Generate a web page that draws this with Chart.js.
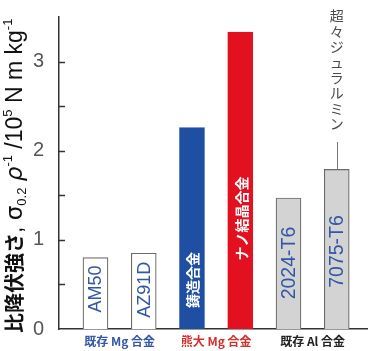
<!DOCTYPE html>
<html><head><meta charset="utf-8">
<script src="https://cdn.jsdelivr.net/npm/chart.js@4/dist/chart.umd.min.js"></script>
<style>html,body{margin:0;padding:0;background:#fff}#c{display:block}</style>
</head><body>
<canvas id="c" width="369" height="351"></canvas>
<script>
// ---- data ----
const alloys = ['AM50', 'AZ91D', '鋳造合金', 'ナノ結晶合金', '2024-T6', '7075-T6'];
const strength = [0.80, 0.85, 2.26, 3.33, 1.47, 1.79];
const groupLabels = ['既存 Mg 合金', '熊大 Mg 合金', '既存 Al 合金'];
const groupCenters = [0.5, 2.5, 4.5];
const yTickValues = [0, 1, 2, 3];
const annotationText = '超々ジュラルミン';
const annotatedIndex = 5;

// ---- styling (kept apart from the data) ----
const barFill = ['#ffffff', '#ffffff', '#1f4fa3', '#e3101f', '#d3d3d3', '#d3d3d3'];
const barBorder = ['#6a6a6a', '#6a6a6a', '#1f4fa3', '#e3101f', '#6a6a6a', '#6a6a6a'];
const labelColor = ['#3257a6', '#3257a6', '#ffffff', '#ffffff', '#3257a6', '#3257a6'];
const labelFont = ['18px "Liberation Sans"', '18px "Liberation Sans"',
  'bold 14px "Noto Sans CJK JP"', 'bold 14px "Noto Sans CJK JP"',
  '19.5px "Liberation Sans"', '19.5px "Liberation Sans"'];
const labelAnchor = [0.45, 0.44, 0.55, 1.24, 0.74, 0.87]; // label centre, in axis units
const groupColor = ['#3557a5', '#d2302a', '#222222'];

const decor = {
  id: 'decor',
  afterDraw(chart) {
    const ctx = chart.ctx, ys = chart.scales.y, ca = chart.chartArea;
    const meta = chart.getDatasetMeta(0);
    ctx.save();
    // inward ticks
    ctx.strokeStyle = '#333'; ctx.lineWidth = 1.5;
    for (let v = 0.5; v <= 3.0001; v += 0.5) {
      const y = Math.round(ys.getPixelForValue(v)) + 0.5;
      ctx.beginPath(); ctx.moveTo(ca.left, y); ctx.lineTo(ca.left + 6, y); ctx.stroke();
    }
    // labels inside bars
    meta.data.forEach((bar, i) => {
      ctx.save();
      ctx.translate(bar.x, ys.getPixelForValue(labelAnchor[i]));
      ctx.rotate(-Math.PI / 2);
      ctx.font = labelFont[i];
      ctx.fillStyle = labelColor[i];
      ctx.textAlign = 'center'; ctx.textBaseline = 'middle';
      ctx.fillText(alloys[i], 0, 1);
      ctx.restore();
    });
    // annotation (vertical writing) + leader line
    const ab = meta.data[annotatedIndex];
    ctx.font = '14px "Noto Sans CJK JP"';
    ctx.fillStyle = '#4a4a4a'; ctx.textAlign = 'center'; ctx.textBaseline = 'middle';
    Array.from(annotationText).forEach((ch, k) => ctx.fillText(ch, ab.x, 16 + k * 15.4));
    ctx.strokeStyle = '#777'; ctx.lineWidth = 1;
    ctx.beginPath(); ctx.moveTo(Math.round(ab.x) + 0.5, 142); ctx.lineTo(Math.round(ab.x) + 0.5, ab.y); ctx.stroke();
    // y axis title
    const segs = [
      ['比降伏強さ', 'bold 20px "Noto Sans CJK JP"', 0],
      [', ', '23px "Liberation Sans"', 0],
      ['σ', '23px "DejaVu Sans"', 0],
      ['0.2', '13px "Liberation Sans"', 4],
      [' ', '23px "Liberation Sans"', 0],
      ['ρ', 'italic 23px "DejaVu Sans"', 0],
      ['-1', '13px "Liberation Sans"', -10],
      [' /10', '23px "Liberation Sans"', 0],
      ['5', '13px "Liberation Sans"', -10],
      [' N m kg', '23px "Liberation Sans"', 0],
      ['-1', '13px "Liberation Sans"', -10]
    ];
    ctx.translate(15, 333);
    ctx.rotate(-Math.PI / 2);
    ctx.textAlign = 'left'; ctx.textBaseline = 'alphabetic'; ctx.fillStyle = '#111';
    let x = 0;
    segs.forEach(([t, f, dy]) => { ctx.font = f; ctx.fillText(t, x, 7 + dy); x += ctx.measureText(t).width; });
    ctx.restore();
  }
};

new Chart(document.getElementById('c'), {
  type: 'bar',
  data: {
    datasets: [{
      data: strength.map((v, i) => ({ x: i, y: v })),
      backgroundColor: barFill,
      borderColor: barBorder,
      borderWidth: 1.2,
      barThickness: 25
    }]
  },
  options: {
    responsive: false, animation: false, devicePixelRatio: 1,
    layout: { padding: { top: 17, right: 2, left: 0, bottom: 0 } },
    plugins: { legend: { display: false }, tooltip: { enabled: false } },
    scales: {
      x: {
        type: 'linear', min: -0.756, max: 5.627, offset: false,
        grid: { display: false, drawTicks: false, offset: false },
        border: { display: true, color: '#333', width: 1.5 },
        afterBuildTicks(s) { s.ticks = groupCenters.map(v => ({ value: v })); },
        afterFit(s) { s.height = 22; s.paddingLeft = 0; s.paddingRight = 0; },
        ticks: {
          autoSkip: false, maxRotation: 0, padding: 5,
          font: { family: 'Noto Sans CJK JP', size: 12, weight: 'bold' },
          color: (c) => groupColor[c.index],
          callback: (v, i) => groupLabels[i]
        }
      },
      y: {
        min: 0, max: 3.5,
        grid: { display: false, drawTicks: false },
        border: { display: true, color: '#333', width: 1.5 },
        afterBuildTicks(s) { s.ticks = yTickValues.map(v => ({ value: v })); },
        afterFit(s) { s.width = 59; s.paddingTop = 0; s.paddingBottom = 0; },
        ticks: {
          padding: 15,
          font: { family: 'Liberation Sans', size: 20 },
          color: '#555',
          callback: (v) => String(v)
        }
      }
    }
  },
  plugins: [decor]
});
</script>
</body></html>
